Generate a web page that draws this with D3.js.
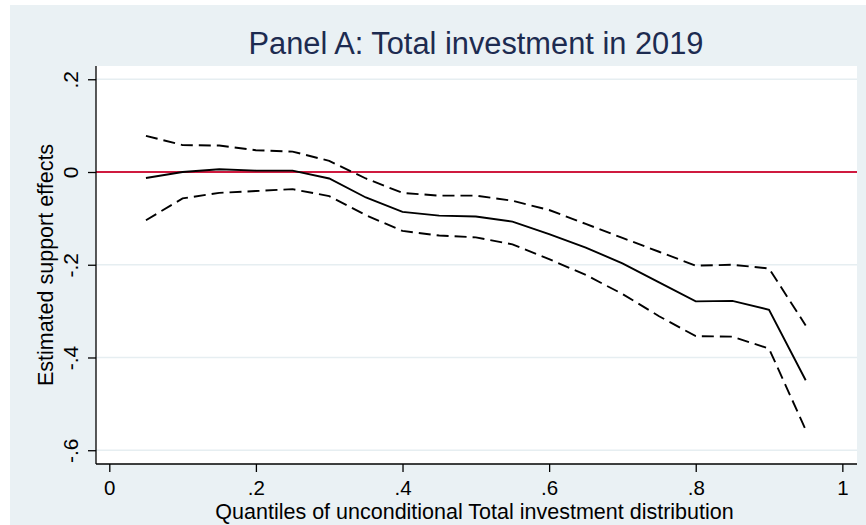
<!DOCTYPE html>
<html>
<head>
<meta charset="utf-8">
<script src="https://cdn.jsdelivr.net/npm/d3@7/dist/d3.min.js"></script>
<style>
  html, body { margin: 0; padding: 0; background: #ffffff; }
  svg { display: block; }
  text { font-family: "Liberation Sans", Arial, sans-serif; }
</style>
</head>
<body>
<div id="chart"></div>
<script>
// Quantile regression estimates with confidence bounds
const quantiles = [0.05, 0.10, 0.15, 0.20, 0.25, 0.30, 0.35, 0.40, 0.45, 0.50,
                   0.55, 0.60, 0.65, 0.70, 0.75, 0.80, 0.85, 0.90, 0.95];
const estimate = [-0.013, 0.000, 0.006, 0.003, 0.003, -0.014, -0.055, -0.086, -0.094, -0.096,
                  -0.107, -0.134, -0.163, -0.197, -0.238, -0.279, -0.278, -0.297, -0.449];
const upperBound = [0.078, 0.058, 0.057, 0.047, 0.044, 0.024, -0.014, -0.045, -0.051, -0.051,
                    -0.062, -0.082, -0.112, -0.142, -0.172, -0.202, -0.200, -0.208, -0.331];
const lowerBound = [-0.104, -0.057, -0.045, -0.041, -0.037, -0.052, -0.093, -0.127, -0.137, -0.141,
                    -0.156, -0.188, -0.222, -0.263, -0.311, -0.354, -0.355, -0.381, -0.556];

const xTicks = [0, 0.2, 0.4, 0.6, 0.8, 1];
const xTickLabels = ["0", ".2", ".4", ".6", ".8", "1"];
const yTicks = [-0.6, -0.4, -0.2, 0, 0.2];
const yTickLabels = ["-.6", "-.4", "-.2", "0", ".2"];

const titleText = "Panel A: Total investment in 2019";
const xTitle = "Quantiles of unconditional Total investment distribution";
const yTitle = "Estimated support effects";

const W = 866, H = 525;
const plot = { left: 96, right: 857, top: 66, bottom: 464 };

const svg = d3.select("#chart").append("svg")
  .attr("width", W).attr("height", H);

// graph region background
svg.append("rect")
  .attr("x", 10).attr("y", 5)
  .attr("width", W - 10).attr("height", H - 5)
  .attr("fill", "#eaf1f4");

// plot region
svg.append("rect")
  .attr("x", plot.left).attr("y", plot.top)
  .attr("width", plot.right - plot.left).attr("height", plot.bottom - plot.top)
  .attr("fill", "#ffffff");

const x = d3.scaleLinear()
  .domain([-0.01814, 1.0200])
  .range([plot.left, plot.right]);
const y = d3.scaleLinear()
  .domain([-0.6297, 0.2286])
  .range([plot.bottom, plot.top]);

// horizontal grid
svg.append("g").selectAll("line")
  .data(yTicks)
  .join("line")
  .attr("x1", plot.left).attr("x2", plot.right)
  .attr("y1", d => y(d)).attr("y2", d => y(d))
  .attr("stroke", "#e6eef1")
  .attr("stroke-width", 1.5);

// zero reference line
svg.append("line")
  .attr("x1", plot.left).attr("x2", plot.right)
  .attr("y1", y(0)).attr("y2", y(0))
  .attr("stroke", "#cf1a3f")
  .attr("stroke-width", 2);

const rows = quantiles.map((q, i) => ({ q, est: estimate[i], hi: upperBound[i], lo: lowerBound[i] }));

const lineOf = key => d3.line().x(d => x(d.q)).y(d => y(d[key]));

svg.append("path").datum(rows)
  .attr("d", lineOf("hi"))
  .attr("fill", "none").attr("stroke", "#000")
  .attr("stroke-width", 1.9).attr("stroke-dasharray", "12,6");

svg.append("path").datum(rows)
  .attr("d", lineOf("lo"))
  .attr("fill", "none").attr("stroke", "#000")
  .attr("stroke-width", 1.9).attr("stroke-dasharray", "12,6");

svg.append("path").datum(rows)
  .attr("d", lineOf("est"))
  .attr("fill", "none").attr("stroke", "#000")
  .attr("stroke-width", 1.9);

// x axis
const xAxis = svg.append("g")
  .attr("transform", `translate(0,${plot.bottom})`)
  .call(d3.axisBottom(x).tickValues(xTicks).tickSize(8)
        .tickFormat((d, i) => xTickLabels[i]));
xAxis.select(".domain")
  .attr("d", `M${plot.left},0H${plot.right}`)
  .attr("stroke", "#000").attr("stroke-width", 1.3);
xAxis.selectAll(".tick line").attr("stroke", "#000").attr("stroke-width", 1.3);
xAxis.selectAll(".tick text")
  .attr("y", 31).attr("dy", 0)
  .attr("fill", "#000")
  .style("font-size", "20.5px")
  .style("font-family", "'Liberation Sans', Arial, sans-serif");

// y axis
const yAxis = svg.append("g")
  .attr("transform", `translate(${plot.left},0)`)
  .call(d3.axisLeft(y).tickValues(yTicks).tickSize(8)
        .tickFormat((d, i) => yTickLabels[i]));
yAxis.select(".domain")
  .attr("d", `M0,${plot.top}V${plot.bottom}`)
  .attr("stroke", "#000").attr("stroke-width", 1.3);
yAxis.selectAll(".tick line").attr("stroke", "#000").attr("stroke-width", 1.3);
yAxis.selectAll(".tick text")
  .attr("x", 0).attr("y", 0).attr("dy", 0)
  .attr("transform", "translate(-18,0) rotate(-90)")
  .attr("text-anchor", "middle")
  .attr("fill", "#000")
  .style("font-size", "21px")
  .style("font-family", "'Liberation Sans', Arial, sans-serif");

// axis titles
svg.append("text")
  .attr("x", (plot.left + plot.right) / 2 - 2)
  .attr("y", 519)
  .attr("text-anchor", "middle")
  .attr("fill", "#000")
  .style("font-size", "21.5px")
  .text(xTitle);

svg.append("text")
  .attr("transform", `translate(53,${(plot.top + plot.bottom) / 2}) rotate(-90)`)
  .attr("text-anchor", "middle")
  .attr("fill", "#000")
  .style("font-size", "21.5px")
  .text(yTitle);

// chart title
svg.append("text")
  .attr("x", 476)
  .attr("y", 54)
  .attr("text-anchor", "middle")
  .attr("fill", "#1d2b50")
  .style("font-size", "30.8px")
  .text(titleText);
</script>
</body>
</html>
